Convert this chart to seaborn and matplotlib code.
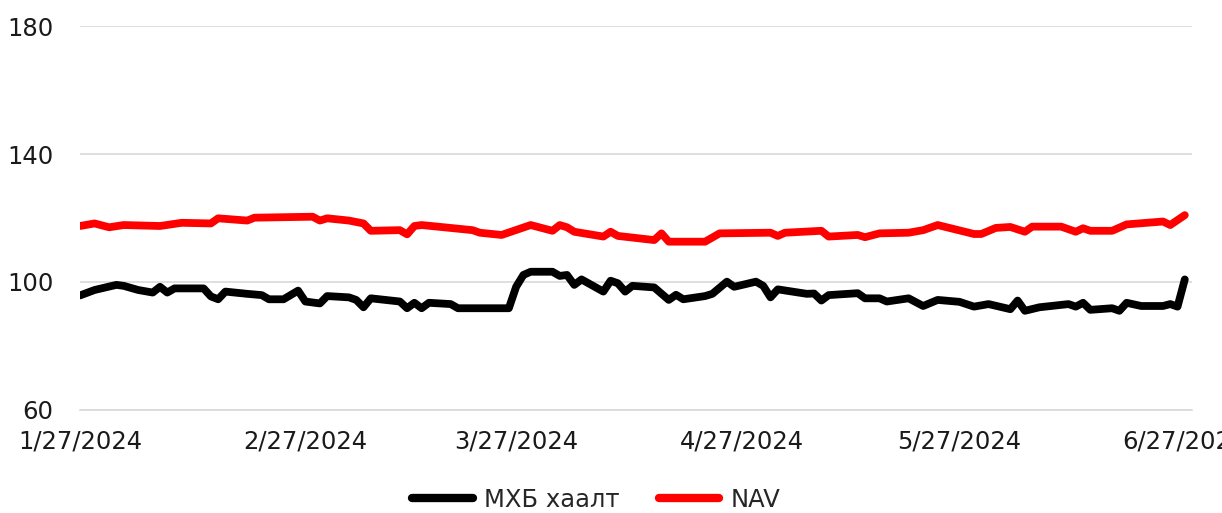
import pandas as pd
import numpy as np
import matplotlib
matplotlib.use("Agg")
import matplotlib.pyplot as plt
import seaborn as sns

# --- Data ---
mxb_dates = ["2024-01-27", "2024-01-29", "2024-02-01", "2024-02-02", "2024-02-04",
             "2024-02-06", "2024-02-07", "2024-02-08", "2024-02-09", "2024-02-13",
             "2024-02-14", "2024-02-15", "2024-02-16", "2024-02-19", "2024-02-21",
             "2024-02-22", "2024-02-24", "2024-02-26", "2024-02-27", "2024-02-29",
             "2024-03-01", "2024-03-04", "2024-03-05", "2024-03-06", "2024-03-07",
             "2024-03-11", "2024-03-12", "2024-03-13", "2024-03-14", "2024-03-15",
             "2024-03-18", "2024-03-19", "2024-03-26", "2024-03-27", "2024-03-28",
             "2024-03-29", "2024-04-01", "2024-04-02", "2024-04-03", "2024-04-04",
             "2024-04-05", "2024-04-08", "2024-04-09", "2024-04-10", "2024-04-11",
             "2024-04-12", "2024-04-15", "2024-04-17", "2024-04-18", "2024-04-19",
             "2024-04-22", "2024-04-23", "2024-04-25", "2024-04-26", "2024-04-29",
             "2024-04-30", "2024-05-01", "2024-05-02", "2024-05-06", "2024-05-07",
             "2024-05-08", "2024-05-09", "2024-05-13", "2024-05-14", "2024-05-16",
             "2024-05-17", "2024-05-20", "2024-05-22", "2024-05-24", "2024-05-27",
             "2024-05-29", "2024-05-31", "2024-06-03", "2024-06-04", "2024-06-05",
             "2024-06-07", "2024-06-11", "2024-06-12", "2024-06-13", "2024-06-14",
             "2024-06-17", "2024-06-18", "2024-06-19", "2024-06-21", "2024-06-24",
             "2024-06-25", "2024-06-26", "2024-06-27"]
mxb_values = [95.8, 97.5, 99.1, 98.8, 97.5,
              96.7, 98.5, 96.7, 98.0, 98.0,
              95.5, 94.6, 97.0, 96.3, 95.9,
              94.6, 94.6, 97.3, 93.9, 93.3,
              95.6, 95.2, 94.4, 92.1, 94.9,
              93.9, 91.8, 93.5, 91.8, 93.5,
              93.1, 91.8, 91.8, 98.5, 102.2,
              103.2, 103.2, 101.9, 102.2, 99.1,
              100.8, 97.0, 100.4, 99.6, 97.0,
              98.8, 98.3, 94.4, 96.0, 94.6,
              95.6, 96.3, 100.1, 98.5, 100.1,
              98.8, 95.2, 97.7, 96.3, 96.4,
              94.2, 95.9, 96.5, 94.9, 94.9,
              93.9, 94.9, 92.5, 94.4, 93.8,
              92.3, 93.1, 91.5, 94.2, 91.0,
              92.1, 93.1, 92.3, 93.5, 91.3,
              91.8, 91.0, 93.5, 92.5, 92.5,
              93.1, 92.3, 100.8]

nav_dates = ["2024-01-27", "2024-01-29", "2024-01-31", "2024-02-02", "2024-02-07",
             "2024-02-10", "2024-02-14", "2024-02-15", "2024-02-19", "2024-02-20",
             "2024-02-28", "2024-02-29", "2024-03-01", "2024-03-04", "2024-03-06",
             "2024-03-07", "2024-03-11", "2024-03-12", "2024-03-13", "2024-03-14",
             "2024-03-21", "2024-03-22", "2024-03-25", "2024-03-29", "2024-04-01",
             "2024-04-02", "2024-04-03", "2024-04-04", "2024-04-08", "2024-04-09",
             "2024-04-10", "2024-04-15", "2024-04-16", "2024-04-17", "2024-04-22",
             "2024-04-24", "2024-05-01", "2024-05-02", "2024-05-03", "2024-05-08",
             "2024-05-09", "2024-05-13", "2024-05-14", "2024-05-16", "2024-05-20",
             "2024-05-22", "2024-05-24", "2024-05-29", "2024-05-30", "2024-06-01",
             "2024-06-03", "2024-06-05", "2024-06-06", "2024-06-10", "2024-06-12",
             "2024-06-13", "2024-06-14", "2024-06-17", "2024-06-19", "2024-06-24",
             "2024-06-25", "2024-06-27"]
nav_values = [117.5, 118.3, 117.1, 117.8, 117.5,
              118.5, 118.3, 119.9, 119.2, 120.1,
              120.4, 119.2, 119.9, 119.2, 118.3,
              116.0, 116.2, 114.9, 117.5, 117.8,
              116.2, 115.4, 114.7, 117.8, 116.0,
              117.8, 117.1, 115.7, 114.2, 115.7,
              114.4, 113.1, 115.2, 112.6, 112.6,
              115.2, 115.4, 114.4, 115.4, 116.0,
              114.2, 114.7, 114.0, 115.2, 115.4,
              116.2, 117.8, 115.0, 115.0, 116.9,
              117.2, 115.7, 117.3, 117.3, 115.7,
              116.8, 116.0, 116.0, 118.0, 118.9,
              117.8, 120.9]

tick_dates = ["2024-01-27", "2024-02-27", "2024-03-27", "2024-04-27", "2024-05-27", "2024-06-27"]
y_ticks = [60, 100, 140, 180]

series_names = ["МХБ хаалт", "NAV"]
series_colors = ["#000000", "#FF0000"]

# --- Build long-form table for seaborn ---
df = pd.concat([
    pd.DataFrame({"date": pd.to_datetime(mxb_dates), "value": mxb_values, "series": series_names[0]}),
    pd.DataFrame({"date": pd.to_datetime(nav_dates), "value": nav_values, "series": series_names[1]}),
], ignore_index=True)

sns.set_style("white")
plt.rcParams["font.family"] = ["DejaVu Sans"]

fig = plt.figure(figsize=(12.22, 5.13), dpi=100)
ax = fig.add_axes([0.0655, 0.2008, 0.9100, 0.7485])

sns.lineplot(data=df, x="date", y="value", hue="series", palette=series_colors,
             hue_order=series_names, linewidth=5.6, ax=ax, legend=False,
             solid_capstyle="round", solid_joinstyle="round")

ax.set_ylim(60, 180)
ax.set_yticks(y_ticks)
ax.set_xlim(pd.Timestamp("2024-01-27"), pd.Timestamp("2024-06-28"))
ticks = pd.to_datetime(tick_dates)
ax.set_xticks(ticks)
ax.set_xticklabels([f"{d.month}/{d.day}/{d.year}" for d in ticks])

ax.grid(axis="y", color="#D9D9D9", linewidth=1.2)
ax.set_axisbelow(True)
for s in ["left", "right", "top"]:
    ax.spines[s].set_visible(False)
ax.spines["bottom"].set_color("#D9D9D9")
ax.spines["bottom"].set_linewidth(1.2)
ax.tick_params(axis="x", length=7, width=1.2, color="#D9D9D9", labelsize=17.5,
               labelcolor="#1a1a1a", pad=7)
ax.tick_params(axis="y", length=0, labelsize=17.5, labelcolor="#1a1a1a", pad=19)
ax.set_xlabel("")
ax.set_ylabel("")

# legend at the bottom
handles = [plt.Line2D([0], [0], color=c, linewidth=6, solid_capstyle="round") for c in series_colors]
fig.legend(handles, series_names, loc="lower center", bbox_to_anchor=(0.488, -0.04),
           ncol=2, frameon=False, fontsize=17.5, handlelength=2.5, columnspacing=1.6,
           handletextpad=0.45)

plt.savefig("out.png", dpi=100)
plt.close()
